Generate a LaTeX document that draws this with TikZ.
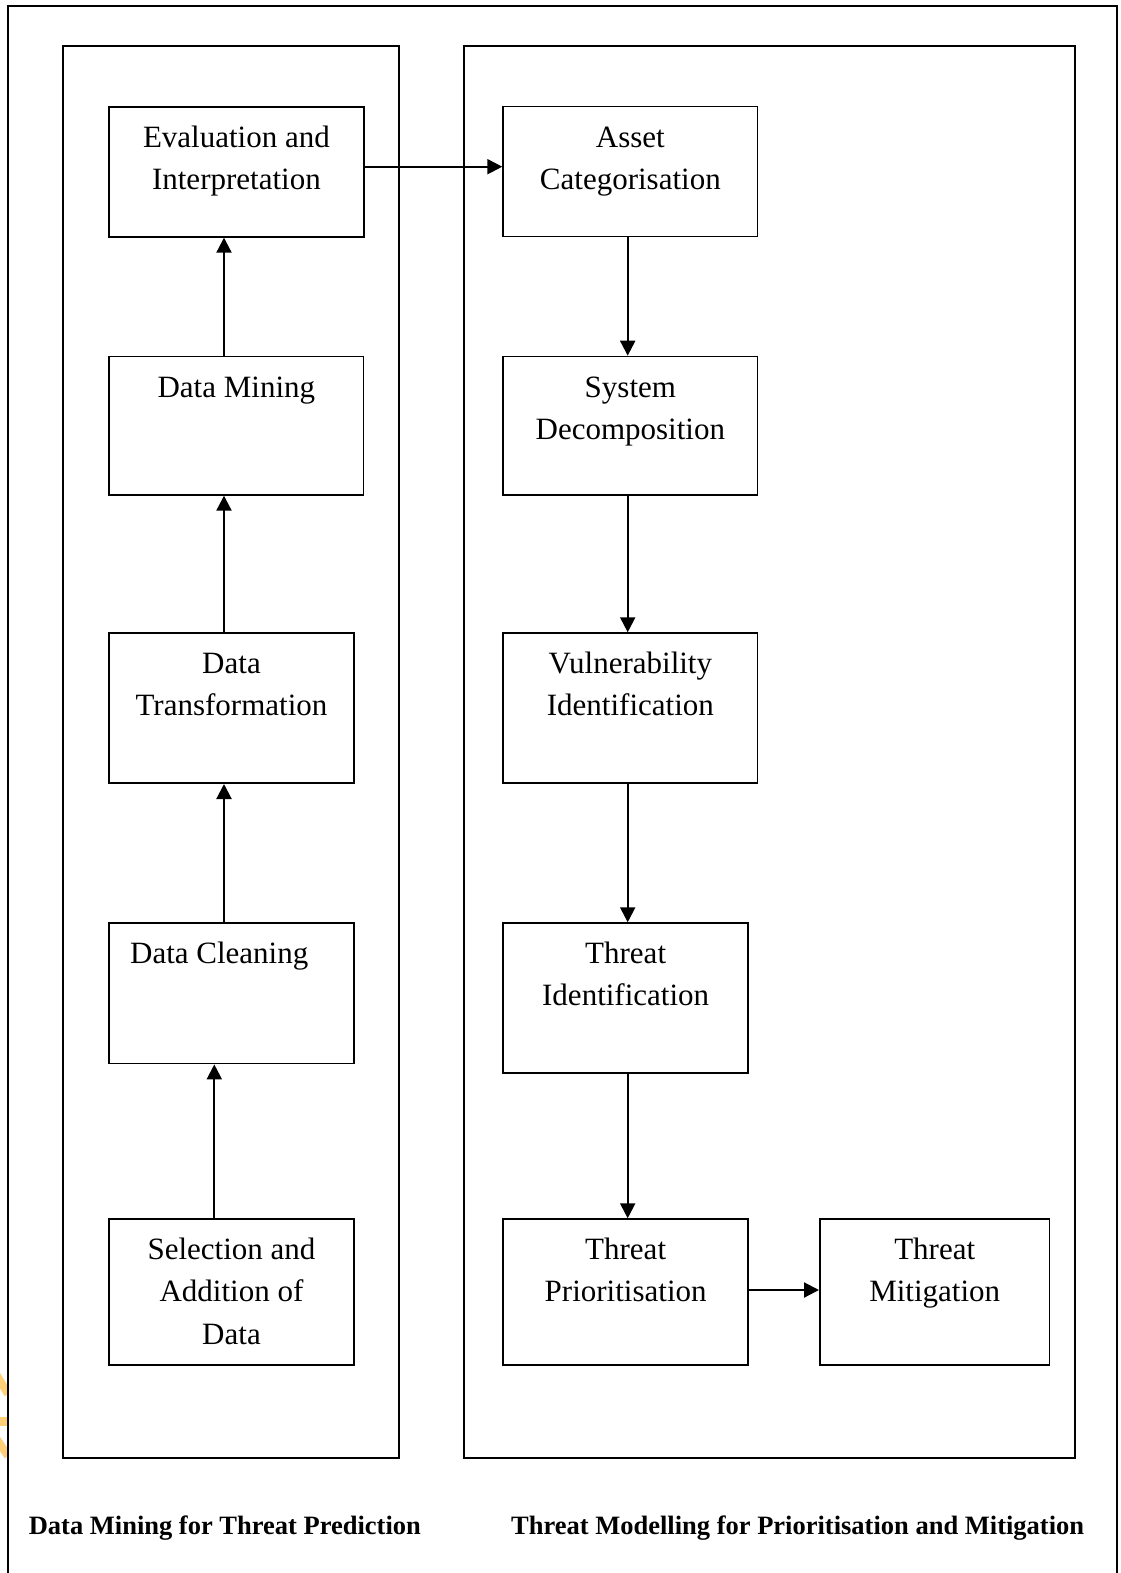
\documentclass[tikz,border=0pt]{standalone}
\usepackage{fontspec}
\setmainfont{Liberation Serif}
\usetikzlibrary{arrows.meta}
\definecolor{wmark}{RGB}{255,208,120}

% box contents: top-aligned lines, first baseline 40.5pt below the top edge
\newcommand\boxtext[3]{\parbox[t][#2pt][t]{#1pt}{\centering\rule{0pt}{40.5pt}#3\par}}
\newcommand\boxtextl[4]{\parbox[t][#2pt][t]{#1pt}{\raggedright\hspace*{#3pt}\rule{0pt}{40.5pt}#4\par}}

\tikzset{
  box/.style={draw, line width=1.7pt, inner sep=0pt, anchor=north west,
              font=\fontsize{31pt}{42.3pt}\selectfont},
  panel/.style={draw, line width=1.7pt},
  arr/.style={line width=2.1pt, -{Triangle[length=15pt,width=15pt]}},
  lab/.style={inner sep=0pt, font=\fontsize{26.5pt}{30pt}\selectfont\bfseries}
}

\begin{document}
\begin{tikzpicture}[x=1pt,y=-1pt]
\useasboundingbox (0,0) rectangle (1120,1573);

% outer frame (bottom edge lies outside the page)
\draw[panel] (7.7,1573) -- (7.7,6) -- (1117,6) -- (1117,1573);

% faint mark on the left edge
\begin{scope}
  \clip (0,1370) rectangle (6.8,1462);
  \draw[wmark, line width=8pt] (-4,1374) -- (8,1394);
  \draw[wmark, line width=9pt] (-4,1421) -- (8,1421);
  \draw[wmark, line width=8pt] (-4,1438) -- (8,1456);
\end{scope}

% the two stage panels
\draw[panel] (62.7,46) rectangle (398.7,1458.3);
\draw[panel] (464,46) rectangle (1075.3,1458.3);

% data mining stages
\node[box] (eval)   at (108.3,106)    {\boxtext{254.5}{130}{Evaluation and\\Interpretation}};
\node[box] (mining) at (108.3,355.7)  {\boxtext{254.4}{138.3}{Data Mining}};
\node[box] (transf) at (108.3,632.3)  {\boxtext{244.7}{150}{Data\\Transformation}};
\node[box] (clean)  at (108.3,922.3)  {\boxtextl{244.7}{140.4}{21}{Data Cleaning}};
\node[box] (select) at (108.3,1218.3) {\boxtext{244.7}{146}{Selection and\\Addition of\\Data}};

% threat modelling stages
\node[box] (asset)    at (502.3,105.7)  {\boxtext{254.4}{130}{Asset\\Categorisation}};
\node[box] (system)   at (502.3,355.7)  {\boxtext{254.4}{138.3}{System\\Decomposition}};
\node[box] (vuln)     at (502.3,632.3)  {\boxtext{254.4}{150}{Vulnerability\\Identification}};
\node[box] (threatid) at (502.3,922.3)  {\boxtext{245}{150}{Threat\\Identification}};
\node[box] (prior)    at (502.3,1218.3) {\boxtext{245}{146}{Threat\\Prioritisation}};
\node[box] (mitig)    at (819,1218.3)   {\boxtext{229.7}{146}{Threat\\Mitigation}};

% connector tracks
\coordinate (xl) at (224,0);
\coordinate (xs) at (214.3,0);
\coordinate (xr) at (627.7,0);
\coordinate (ya) at (0,166.7);
\coordinate (yb) at (0,1290);

\draw[arr] (select.north -| xs) -- (clean.south -| xs);
\draw[arr] (clean.north -| xl)  -- (transf.south -| xl);
\draw[arr] (transf.north -| xl) -- (mining.south -| xl);
\draw[arr] (mining.north -| xl) -- (eval.south -| xl);
\draw[arr] (eval.east |- ya)    -- (asset.west |- ya);
\draw[arr] (asset.south -| xr)  -- (system.north -| xr);
\draw[arr] (system.south -| xr) -- (vuln.north -| xr);
\draw[arr] (vuln.south -| xr)   -- (threatid.north -| xr);
\draw[arr] (threatid.south -| xr) -- (prior.north -| xr);
\draw[arr] (prior.east |- yb)   -- (mitig.west |- yb);

% panel captions
\node[lab, anchor=base west] (leftcap)  at (28.6,1534) {Data Mining for Threat Prediction};
\node[lab, anchor=base west] (rightcap) at (511,1534)  {Threat Modelling for Prioritisation and Mitigation};
\end{tikzpicture}
\end{document}
